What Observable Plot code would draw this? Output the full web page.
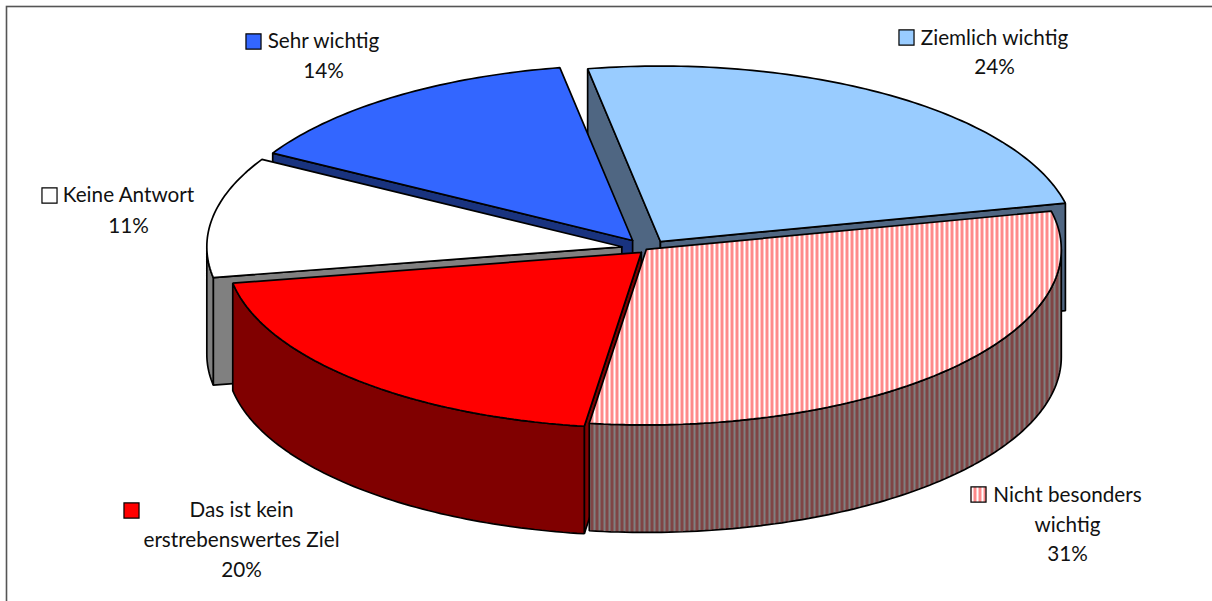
<!DOCTYPE html>
<html><head><meta charset="utf-8">
<script src="https://cdn.jsdelivr.net/npm/d3@7"></script>
<script src="https://cdn.jsdelivr.net/npm/@observablehq/plot@0.6"></script>
<style>html,body{margin:0;padding:0;background:#fff;overflow:hidden}svg{display:block}</style>
</head><body><div id="chart"></div>
<script>
// Data: clockwise from the first slice; shares.
const categories = ["Ziemlich wichtig","Nicht besonders wichtig","Das ist kein erstrebenswertes Ziel","Keine Antwort","Sehr wichtig"];
const shares = [24.3, 30.7, 20.0, 11.1, 13.9];
const percentLabels = ["24%","31%","20%","11%","14%"];
const firstSliceAngle = -10.1;
// Explosion of each slice, in radii of the pie.
const explodeX = [0.048, 0.014, 0.002, -0.045, -0.019];
const explodeY = [0.034, -0.011, -0.028, 0.004, 0.040];
const depth = 0.6125;
// Styles
const topFills = ["#99CCFF","url(#stripeTop)","#FF0000","#FFFFFF","#3366FF"];
const wallFills = ["#4F6682","url(#stripeWall)","#800000","#808080","#19337F"];
const radialOrder = [0,4,3,2,1];
const paintOrder = [0,4,3,1,2];
// Label layout (page pixels)
const labelLines = [["Ziemlich wichtig"],["Nicht besonders","wichtig"],["Das ist kein","erstrebenswertes Ziel"],["Keine Antwort"],["Sehr wichtig"]];
const labelX = [994,1067,241,128,323];
const labelY = [[38,67],[495,525,554],[510,540,570],[195,226],[41,71]];
const keyX = [906,978,131,49,253];
const keyY = [37,494,510,195,41];

const W = 1212, H = 601, cx = 640, cy = 247, rx = 415, ry = 175.5;
const invX = p => (p-cx)/rx, invY = p => (cy-p)/ry;
const rad = d => d*Math.PI/180;

let a = firstSliceAngle;
const slices = shares.map((s,i)=>{const start=a; a+=s*3.6; return {i,start,end:a};});
const pt = (s,t,drop=0)=>({x:explodeX[s.i]+Math.sin(rad(t)),y:explodeY[s.i]+Math.cos(rad(t))-drop});
const apex = (s,drop=0)=>({x:explodeX[s.i],y:explodeY[s.i]-drop});
const arc = (s,from,to,drop=0)=>{const n=Math.max(2,Math.ceil(Math.abs(to-from)));return d3.range(n+1).map(k=>pt(s,from+(to-from)*k/n,drop));};
const closed = p=>[...p,p[0]];
const poly = (p,fill,sw=1.7)=>Plot.line(closed(p),{x:"x",y:"y",fill,stroke:"#000",strokeWidth:sw,strokeLinejoin:"miter",curve:"linear"});

const marks = [];
marks.push(()=>{
  const svg = d3.create("svg:g");
  const defs = svg.append("defs");
  const pat=(id,bg,fg)=>{const p=defs.append("pattern").attr("id",id).attr("patternUnits","userSpaceOnUse").attr("width",5).attr("height",5);
    p.append("rect").attr("width",5).attr("height",5).attr("fill",bg);
    p.append("rect").attr("width",3).attr("height",5).attr("fill",fg);};
  pat("stripeTop","#FFFFFF","#FF8A8A");
  pat("stripeWall","#808080","#804545");
  return svg.node();
});
marks.push(Plot.frame({stroke:"#555",strokeWidth:1.6,insetLeft:6,insetTop:6,insetRight:-20,insetBottom:-20}));

// Radial walls that face the viewer, back to front
for (const idx of radialOrder){
  const s = slices[idx];
  if (Math.sin(rad(s.start))<0) marks.push(poly([apex(s),pt(s,s.start),pt(s,s.start,depth),apex(s,depth)],wallFills[idx]));
  if (Math.sin(rad(s.end))>0) marks.push(poly([apex(s),pt(s,s.end),pt(s,s.end,depth),apex(s,depth)],wallFills[idx]));
}
for (const idx of paintOrder){
  const s = slices[idx];
  // outer wall: the part of the rim that faces the viewer
  const from = Math.max(s.start,90), to = Math.min(s.end,270);
  if (to>from) marks.push(poly([...arc(s,from,to),...arc(s,to,from,depth)],wallFills[idx]));
  // top
  marks.push(poly([apex(s),...arc(s,s.start,s.end)],topFills[idx]));
}

const font = {fontFamily:"Lato, sans-serif",fontSize:20.7,fill:"#111",textAnchor:"middle",lineAnchor:"middle"};
slices.forEach(s=>{
  const lines = [...labelLines[s.i],percentLabels[s.i]];
  lines.forEach((t,k)=>{
    marks.push(Plot.text([t],{x:()=>invX(labelX[s.i]),y:()=>invY(labelY[s.i][k]),text:d=>d,...font}));
  });
  marks.push(Plot.dot([s.i],{x:()=>invX(keyX[s.i]),y:()=>invY(keyY[s.i]),symbol:"square",r:8.5,fill:topFills[s.i],stroke:"#000",strokeWidth:1.2}));
});

const chart = Plot.plot({
  width:W,height:H,margin:0,
  x:{domain:[-1,1],range:[cx-rx,cx+rx],axis:null},
  y:{domain:[-1,1],range:[cy+ry,cy-ry],axis:null},
  style:{background:"#fff"},
  marks
});
document.getElementById("chart").append(chart);
</script></body></html>
